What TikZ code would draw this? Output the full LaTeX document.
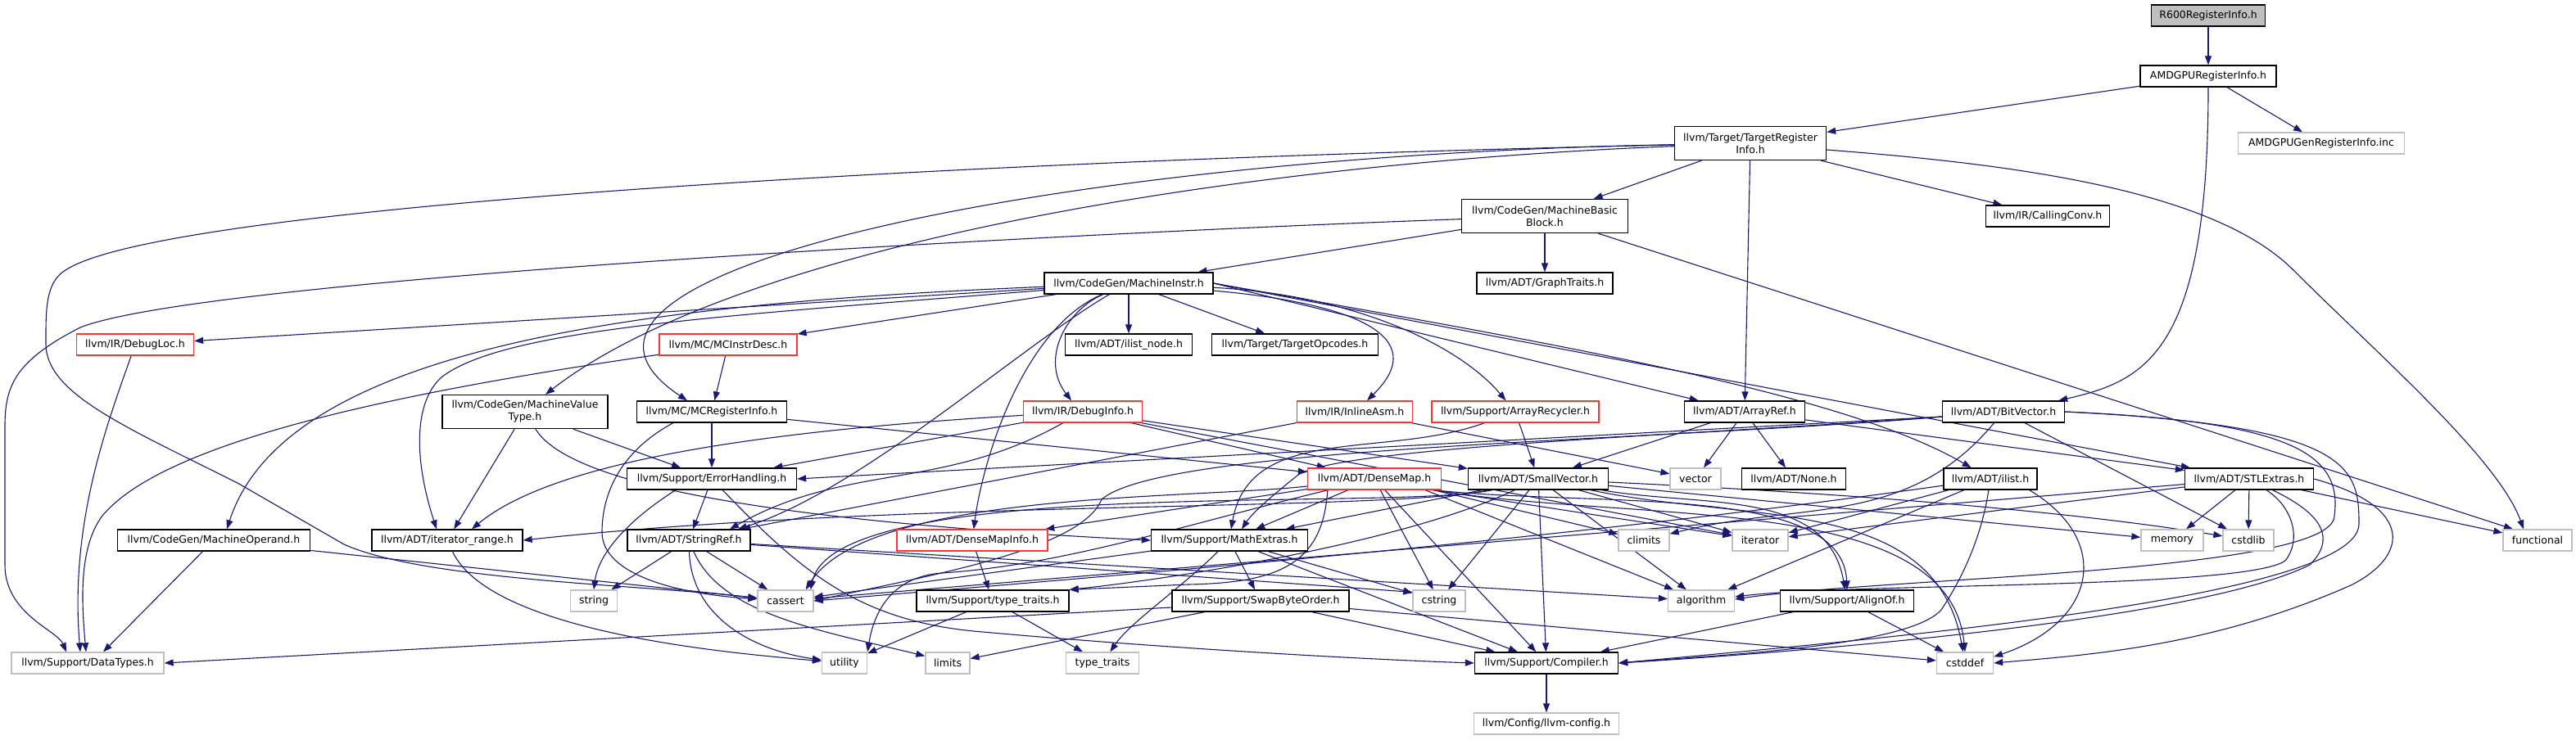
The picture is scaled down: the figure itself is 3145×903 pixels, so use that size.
\documentclass[tikz,border=0pt]{standalone}
\usepackage{fontspec}
\setmainfont{DejaVu Sans}
\usetikzlibrary{arrows.meta}
\definecolor{edgeblue}{HTML}{191970}
\definecolor{grey75}{HTML}{BFBFBF}
\definecolor{truncred}{HTML}{FF3333}
\pgfdeclarelayer{edges}
\pgfsetlayers{edges,main}

\begin{document}
\begin{tikzpicture}[
    x=1pt, y=-1pt,
    box/.style={
        draw,
        line width=1.3pt,
        fill=white,
        align=center,
        inner sep=2pt,
        minimum height=26pt,
        font=\fontsize{12.5}{15}\selectfont
    },
    tallbox/.style={box, minimum height=41pt},
    redbox/.style={box, draw=truncred},
    greybox/.style={box, draw=grey75},
    rootbox/.style={box, fill=grey75},
    arrow/.style={
        -{Triangle[length=11pt,width=8pt]},
        draw=edgeblue,
        line width=1.1pt
    }
]
\useasboundingbox (0,0) rectangle (3145,903);

\node[rootbox, minimum width=139pt] (r600) at (2696,19) {R600RegisterInfo.h};
\node[box, minimum width=166pt] (amdgpuri) at (2696,93) {AMDGPURegisterInfo.h};
\node[greybox, minimum width=203pt] (amdgpugen) at (2834,175) {AMDGPUGenRegisterInfo.inc};
\node[tallbox, minimum width=185pt] (tri) at (2137,175) {llvm/Target/TargetRegister\\Info.h};
\node[tallbox, minimum width=203pt] (mbb) at (1886,264) {llvm/CodeGen/MachineBasic\\Block.h};
\node[box, minimum width=151pt] (callingconv) at (2500,264) {llvm/IR/CallingConv.h};
\node[box, minimum width=206pt] (mi) at (1378,346) {llvm/CodeGen/MachineInstr.h};
\node[box, minimum width=166pt] (graphtraits) at (1886,346) {llvm/ADT/GraphTraits.h};
\node[redbox, minimum width=143pt] (debugloc) at (165,421) {llvm/IR/DebugLoc.h};
\node[redbox, minimum width=168pt] (mcinstrdesc) at (889,421) {llvm/MC/MCInstrDesc.h};
\node[box, minimum width=155pt] (ilistnode) at (1378,421) {llvm/ADT/ilist\_node.h};
\node[box, minimum width=203pt] (targetopcodes) at (1581,421) {llvm/Target/TargetOpcodes.h};
\node[tallbox, minimum width=202pt] (mvt) at (641,503) {llvm/CodeGen/MachineValue\\Type.h};
\node[box, minimum width=183pt] (mcri) at (869,503) {llvm/MC/MCRegisterInfo.h};
\node[redbox, minimum width=145pt] (debuginfo) at (1322,503) {llvm/IR/DebugInfo.h};
\node[redbox, minimum width=141pt] (inlineasm) at (1654,503) {llvm/IR/InlineAsm.h};
\node[redbox, minimum width=204pt] (arrayrecycler) at (1850,503) {llvm/Support/ArrayRecycler.h};
\node[box, minimum width=147pt] (arrayref) at (2130,503) {llvm/ADT/ArrayRef.h};
\node[box, minimum width=149pt] (bitvector) at (2446,503) {llvm/ADT/BitVector.h};
\node[box, minimum width=207pt] (errorhandling) at (869,585) {llvm/Support/ErrorHandling.h};
\node[redbox, minimum width=163pt] (densemap) at (1678,585) {llvm/ADT/DenseMap.h};
\node[box, minimum width=171pt] (smallvector) at (1878,585) {llvm/ADT/SmallVector.h};
\node[greybox, minimum width=62pt] (vector) at (2070,585) {vector};
\node[box, minimum width=127pt] (none) at (2190,585) {llvm/ADT/None.h};
\node[box, minimum width=114pt] (ilist) at (2430,585) {llvm/ADT/ilist.h};
\node[box, minimum width=157pt] (stlextras) at (2746,585) {llvm/ADT/STLExtras.h};
\node[box, minimum width=235pt] (machineoperand) at (261,660) {llvm/CodeGen/MachineOperand.h};
\node[box, minimum width=184pt] (iteratorrange) at (546,660) {llvm/ADT/iterator\_range.h};
\node[box, minimum width=150pt] (stringref) at (841,660) {llvm/ADT/StringRef.h};
\node[redbox, minimum width=184pt] (densemapinfo) at (1187,660) {llvm/ADT/DenseMapInfo.h};
\node[box, minimum width=191pt] (mathextras) at (1501,660) {llvm/Support/MathExtras.h};
\node[greybox, minimum width=62pt] (climits) at (2007,660) {climits};
\node[greybox, minimum width=68pt] (iterator) at (2149,660) {iterator};
\node[greybox, minimum width=76pt] (memory) at (2652,660) {memory};
\node[greybox, minimum width=62pt] (cstdlib) at (2745,660) {cstdlib};
\node[greybox, minimum width=84pt] (functional) at (3098,660) {functional};
\node[greybox, minimum width=57pt] (string) at (725,734) {string};
\node[greybox, minimum width=68pt] (cassert) at (959,734) {cassert};
\node[box, minimum width=186pt] (typetraitsh) at (1212,734) {llvm/Support/type\_traits.h};
\node[box, minimum width=216pt] (swapbyteorder) at (1539,734) {llvm/Support/SwapByteOrder.h};
\node[greybox, minimum width=64pt] (cstring) at (1757,734) {cstring};
\node[greybox, minimum width=81pt] (algorithm) at (2077,734) {algorithm};
\node[box, minimum width=163pt] (alignof) at (2255,734) {llvm/Support/AlignOf.h};
\node[greybox, minimum width=186pt] (datatypes) at (107,810) {llvm/Support/DataTypes.h};
\node[greybox, minimum width=55pt] (utility) at (1031,810) {utility};
\node[greybox, minimum width=54pt] (limits) at (1157,810) {limits};
\node[greybox, minimum width=89pt] (typetraits) at (1346,810) {type\_traits};
\node[box, minimum width=175pt] (compiler) at (1888,810) {llvm/Support/Compiler.h};
\node[greybox, minimum width=69pt] (cstddef) at (2399,810) {cstddef};
\node[greybox, minimum width=177pt] (llvmconfig) at (1888,884) {llvm/Config/llvm-config.h};

\begin{pgfonlayer}{edges}
\draw[arrow] (r600) -- (amdgpuri);
\draw[arrow] (amdgpuri) -- (tri);
\draw[arrow] (amdgpuri) -- (amdgpugen);
\draw[arrow] (amdgpuri) .. controls (2696,430) and (2620,465) .. ([xshift=-8pt]bitvector.north east);

\draw[arrow] (tri) -- (mbb);
\draw[arrow] (tri) -- (callingconv);
\draw[arrow] (tri) -- (arrayref);
\draw[arrow] ([yshift=-8pt]tri.east) .. controls (2450,200) and (2700,230) .. (2800,330) .. controls (2900,430) and (3050,560) .. ([xshift=-17pt]functional.north);
\draw[arrow] (tri) .. controls (1500,200) and (900,300) .. ([xshift=25pt]mvt.north);
\draw[arrow] (tri) .. controls (1300,190) and (600,330) .. ([xshift=-30pt]mcri.north);
\draw[arrow] (tri) .. controls (1200,195) and (200,250) .. (80,330) .. controls (55,345) and (56,380) .. (56,420) .. controls (56,480) and (150,520) .. (290,590) -- (420,665) .. controls (520,710) and (800,715) .. ([yshift=3pt]cassert.west);

\draw[arrow] (mbb) -- (mi);
\draw[arrow] (mbb) -- (graphtraits);
\draw[arrow] (mbb) -- ([xshift=-30pt]functional.north);
\draw[arrow] (mbb) .. controls (1300,285) and (250,340) .. (98,400) .. controls (20,440) and (6,470) .. (6,520) -- (6,690) .. controls (6,750) and (70,770) .. ([xshift=-26pt]datatypes.north);

\draw[arrow] (mi) -- (debugloc);
\draw[arrow] (mi) -- (mcinstrdesc);
\draw[arrow] (mi) -- (ilistnode);
\draw[arrow] (mi) -- (targetopcodes);
\draw[arrow] (mi) .. controls (1300,380) and (1270,440) .. ([xshift=-14pt]debuginfo.north);
\draw[arrow] (mi) .. controls (1650,370) and (1750,410) .. ([xshift=15pt]inlineasm.north);
\draw[arrow] (mi) .. controls (1650,360) and (1780,420) .. (arrayrecycler);
\draw[arrow] (mi.east) -- (arrayref);
\draw[arrow] (mi.east) .. controls (1900,420) and (2250,480) .. (ilist);
\draw[arrow] (mi.east) -- (stlextras);
\draw[arrow] (mi) .. controls (800,370) and (350,420) .. ([xshift=16pt]machineoperand.north);
\draw[arrow] (mi) .. controls (900,385) and (620,400) .. (540,460) .. controls (505,490) and (505,560) .. ([xshift=-13pt]iteratorrange.north);
\draw[arrow] (mi) .. controls (1250,420) and (1050,600) .. ([xshift=60pt]stringref.north);
\draw[arrow] (mi) .. controls (1250,400) and (1200,560) .. (densemapinfo);

\draw[arrow] (mcinstrdesc) -- (mcri);
\draw[arrow] (mcinstrdesc) .. controls (480,480) and (200,540) .. (125,630) .. controls (95,670) and (100,740) .. ([xshift=-2pt]datatypes.north);

\draw[arrow] (mvt) -- (errorhandling);
\draw[arrow] (mvt) -- (iteratorrange);
\draw[arrow] (mvt) .. controls (700,600) and (1000,640) .. (mathextras.west);

\draw[arrow] (mcri) -- (errorhandling);
\draw[arrow] (mcri) -- (densemap);
\draw[arrow] ([xshift=45pt]mcri.south west) .. controls (760,550) and (735,600) .. (735,650) .. controls (735,700) and (820,725) .. (cassert);

\draw[arrow] (errorhandling) -- (stringref);
\draw[arrow] ([xshift=60pt]errorhandling.south west) .. controls (760,640) and (730,680) .. (string.north);
\draw[arrow] (errorhandling) .. controls (980,700) and (1050,760) .. (1200,772) .. controls (1400,790) and (1650,805) .. (compiler.west);

\draw[arrow] (debugloc) .. controls (130,520) and (85,640) .. ([xshift=-9pt]datatypes.north);

\draw[arrow] (debuginfo) -- (errorhandling);
\draw[arrow] (debuginfo) .. controls (1150,600) and (1035,565) .. ([xshift=50pt]stringref.north);
\draw[arrow] (debuginfo) .. controls (950,525) and (680,560) .. ([xshift=30pt]iteratorrange.north);
\draw[arrow] (debuginfo) -- (densemap);
\draw[arrow] (debuginfo) -- (smallvector);
\draw[arrow] (debuginfo) -- (iterator);

\draw[arrow] (inlineasm) -- ([xshift=64pt]stringref.north);
\draw[arrow] (inlineasm) -- (vector);

\draw[arrow] (arrayrecycler) -- (smallvector);
\draw[arrow] (arrayrecycler) .. controls (1690,561) and (1526,517) .. ([xshift=2pt]mathextras.north);

\draw[arrow] (arrayref) -- (smallvector);
\draw[arrow] (arrayref) -- (vector);
\draw[arrow] (arrayref) -- (none);
\draw[arrow] (arrayref) -- (stlextras);

\draw[arrow] ([yshift=-6pt]bitvector.west) -- (errorhandling.east);
\draw[arrow] (bitvector) .. controls (2100,530) and (1640,545) .. (1585,580) .. controls (1560,600) and (1530,625) .. ([xshift=15pt]mathextras.north);
\draw[arrow] (bitvector) .. controls (2327,645) and (2200,612) .. (climits);
\draw[arrow] (bitvector) -- (cstdlib);
\draw[arrow] (bitvector) .. controls (2000,540) and (1420,545) .. (1345,610) .. controls (1320,670) and (1150,700) .. (cassert.east);
\draw[arrow] (bitvector.east) .. controls (2800,515) and (2860,555) .. (2850,630) .. controls (2850,700) and (2300,705) .. ([yshift=2pt]algorithm.east);
\draw[arrow] (bitvector.east) .. controls (2870,520) and (2880,570) .. (2880,640) .. controls (2880,730) and (2300,780) .. (compiler.east);

\draw[arrow] (smallvector) .. controls (1700,625) and (1100,610) .. (iteratorrange.east);
\draw[arrow] (smallvector) .. controls (2077,620) and (2231,596) .. (alignof);
\draw[arrow] (smallvector) -- (compiler);
\draw[arrow] (smallvector) -- (mathextras);
\draw[arrow] (smallvector) .. controls (1720,660) and (1450,705) .. (typetraitsh.north east);
\draw[arrow] (smallvector) -- (algorithm);
\draw[arrow] ([xshift=30pt]smallvector.south west) .. controls (1700,625) and (1020,580) .. ([xshift=-4pt]cassert.north east);
\draw[arrow] (smallvector) .. controls (2131,639) and (2363,604) .. (cstddef);
\draw[arrow] (smallvector) .. controls (2200,600) and (2500,620) .. (cstdlib);
\draw[arrow] (smallvector) -- (cstring);
\draw[arrow] (smallvector) -- (iterator);
\draw[arrow] (smallvector) -- (memory);

\draw[arrow] (densemap) -- (densemapinfo);
\draw[arrow] ([xshift=-10pt]densemap.south east) .. controls (1950,620) and (2250,590) .. (alignof.north);
\draw[arrow] (densemap) -- (compiler);
\draw[arrow] (densemap) -- (mathextras);
\draw[arrow] ([xshift=25pt]densemap.south west) .. controls (1615,690) and (1560,712) .. (1450,714) -- (typetraitsh.north east);
\draw[arrow] ([xshift=-20pt]densemap.south east) -- (algorithm);
\draw[arrow] (densemap) .. controls (1450,610) and (1060,600) .. ([xshift=-10pt]cassert.north east);
\draw[arrow] ([xshift=-10pt]densemap.south east) -- (climits);
\draw[arrow] ([xshift=-10pt]densemap.south east) .. controls (2000,640) and (2380,600) .. (cstddef.north);
\draw[arrow] (densemap) -- (cstring);
\draw[arrow] ([xshift=-10pt]densemap.south east) -- (iterator);
\draw[arrow] (densemap) .. controls (1450,640) and (1300,690) .. (1150,700) .. controls (1080,705) and (1065,760) .. (utility.north east);

\draw[arrow] (iteratorrange) .. controls (599,773) and (893,798) .. (utility);

\draw[arrow] (stringref) -- (string);
\draw[arrow] (stringref) -- (cassert);
\draw[arrow] (stringref) .. controls (844,755) and (922,795) .. (utility);
\draw[arrow] (stringref) .. controls (880,750) and (1000,770) .. ([yshift=-5pt]limits.north west);
\draw[arrow] (stringref) -- ([yshift=-3pt]cstring.north west);
\draw[arrow] (stringref) -- (algorithm);

\draw[arrow] (machineoperand) -- ([xshift=19pt]datatypes.north);
\draw[arrow] (machineoperand) -- (cassert);

\draw[arrow] (densemapinfo) -- (typetraitsh);

\draw[arrow] (mathextras) -- (swapbyteorder);
\draw[arrow] (mathextras) -- (compiler);
\draw[arrow] (mathextras) -- (cassert);
\draw[arrow] (mathextras) -- (cstring);
\draw[arrow] (mathextras) .. controls (1440,720) and (1380,760) .. (typetraits);

\draw[arrow] (typetraitsh) -- (utility);
\draw[arrow] (typetraitsh) -- (typetraits);

\draw[arrow] ([yshift=-8pt]swapbyteorder.west) -- (datatypes.east);
\draw[arrow] (swapbyteorder) -- (limits);
\draw[arrow] (swapbyteorder) -- (compiler);
\draw[arrow] (swapbyteorder) -- (cstddef);

\draw[arrow] (alignof) -- (compiler);
\draw[arrow] (alignof) -- (cstddef);

\draw[arrow] (ilist) .. controls (1900,660) and (1400,700) .. (cassert.east);
\draw[arrow] (ilist) -- (iterator);
\draw[arrow] (ilist) -- (algorithm);
\draw[arrow] (ilist) .. controls (2420,650) and (2400,700) .. (2370,745) .. controls (2330,790) and (2100,800) .. (compiler.east);
\draw[arrow] ([xshift=-10pt]ilist.south east) .. controls (2580,660) and (2560,760) .. ([yshift=-6pt]cstddef.north east);

\draw[arrow] (stlextras) -- (memory);
\draw[arrow] (stlextras) -- (cstdlib);
\draw[arrow] (stlextras) -- (functional);
\draw[arrow] (stlextras) -- (iterator);
\draw[arrow] (stlextras) .. controls (2800,620) and (2810,660) .. (2790,685) .. controls (2740,720) and (2260,712) .. ([yshift=5pt]algorithm.east);
\draw[arrow] (stlextras) -- (cassert);
\draw[arrow] (stlextras) .. controls (2840,630) and (2850,660) .. (2820,690) .. controls (2700,750) and (2300,790) .. (compiler.east);
\draw[arrow] (stlextras.east) .. controls (2950,620) and (2940,680) .. (2870,715) .. controls (2700,790) and (2550,800) .. (cstddef.east);

\draw[arrow] (compiler) -- (llvmconfig);
\end{pgfonlayer}

\end{tikzpicture}
\end{document}
